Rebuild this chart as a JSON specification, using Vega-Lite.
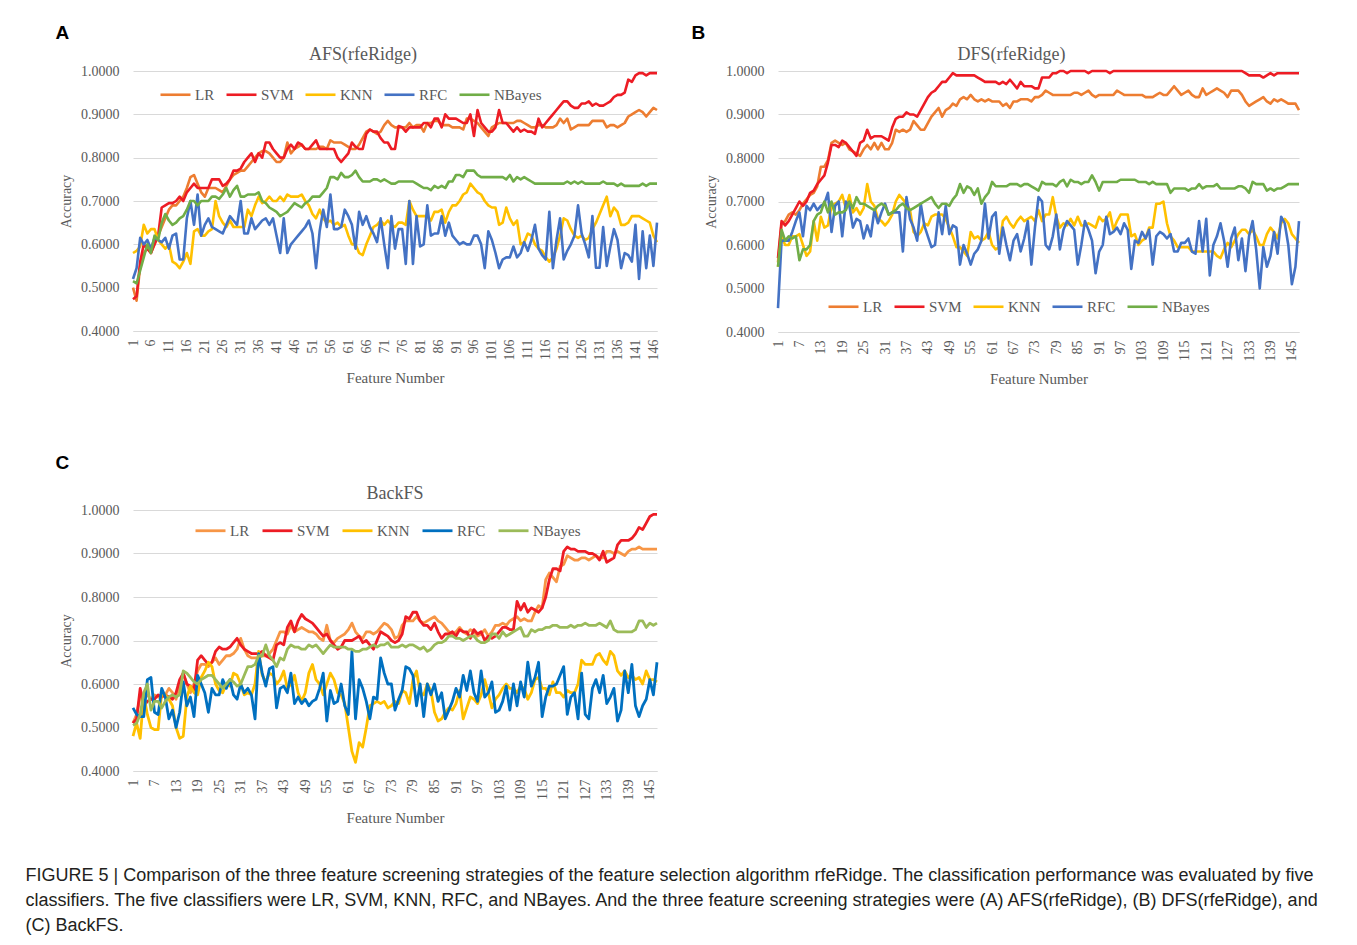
{
"$schema": "https://vega.github.io/schema/vega-lite/v6.json",
"background": "white",
"padding": {"left": 25, "top": 24, "right": 5, "bottom": 5},
"title": {"text": ["FIGURE 5 | Comparison of the three feature screening strategies of the feature selection algorithm rfeRidge. The classification performance was evaluated by five", "classifiers. The five classifiers were LR, SVM, KNN, RFC, and NBayes. And the three feature screening strategies were (A) AFS(rfeRidge), (B) DFS(rfeRidge), and", "(C) BackFS."], "orient": "bottom", "anchor": "start", "font": "Liberation Sans", "fontSize": 18, "fontWeight": "normal", "color": "#231F20", "lineHeight": 25, "offset": 42, "dx": -30},
"resolve": {"scale": {"color": "independent", "strokeWidth": "independent"}, "legend": {"color": "independent"}},
"config": {
  "view": {"stroke": null},
  "title": {"font": "Liberation Serif", "fontSize": 18, "fontWeight": "normal", "color": "#595959"},
  "axis": {"labelFont": "Liberation Serif", "labelFontSize": 14, "labelColor": "#595959", "titleFont": "Liberation Serif", "titleFontSize": 14, "titleColor": "#595959", "titleFontWeight": "normal", "gridColor": "#D9D9D9", "domainColor": "#D9D9D9", "ticks": false, "tickSize": 0},
  "legend": {"orient": "none", "direction": "horizontal", "symbolType": "stroke", "symbolSize": 900, "symbolStrokeWidth": 2.6, "labelFont": "Liberation Serif", "labelFontSize": 15, "labelColor": "#595959", "columnPadding": 6, "labelOffset": 3, "padding": 0, "title": null}
},
"datasets": {
"a": [
{"f":1,"LR":0.50,"SVM":0.473,"KNN":0.58,"RFC":0.52,"NBayes":0.515},
{"f":2,"LR":0.47,"SVM":0.48,"KNN":0.585,"RFC":0.545,"NBayes":0.51},
{"f":3,"LR":0.55,"SVM":0.56,"KNN":0.595,"RFC":0.615,"NBayes":0.54},
{"f":4,"LR":0.58,"SVM":0.60,"KNN":0.645,"RFC":0.60,"NBayes":0.57},
{"f":5,"LR":0.59,"SVM":0.59,"KNN":0.625,"RFC":0.61,"NBayes":0.60},
{"f":6,"LR":0.58,"SVM":0.58,"KNN":0.635,"RFC":0.59,"NBayes":0.58},
{"f":7,"LR":0.60,"SVM":0.60,"KNN":0.635,"RFC":0.615,"NBayes":0.62},
{"f":8,"LR":0.62,"SVM":0.62,"KNN":0.61,"RFC":0.61,"NBayes":0.61},
{"f":9,"LR":0.64,"SVM":0.685,"KNN":0.60,"RFC":0.605,"NBayes":0.65},
{"f":10,"LR":0.66,"SVM":0.69,"KNN":0.59,"RFC":0.615,"NBayes":0.67},
{"f":11,"LR":0.68,"SVM":0.695,"KNN":0.60,"RFC":0.59,"NBayes":0.655},
{"f":12,"LR":0.69,"SVM":0.695,"KNN":0.56,"RFC":0.62,"NBayes":0.645},
{"f":13,"LR":0.69,"SVM":0.70,"KNN":0.555,"RFC":0.625,"NBayes":0.65},
{"f":14,"LR":0.70,"SVM":0.71,"KNN":0.545,"RFC":0.565,"NBayes":0.66},
{"f":15,"LR":0.71,"SVM":0.70,"KNN":0.56,"RFC":0.565,"NBayes":0.665},
{"f":16,"LR":0.73,"SVM":0.72,"KNN":0.58,"RFC":0.66,"NBayes":0.68},
{"f":17,"LR":0.755,"SVM":0.73,"KNN":0.555,"RFC":0.70,"NBayes":0.70},
{"f":18,"LR":0.76,"SVM":0.74,"KNN":0.63,"RFC":0.645,"NBayes":0.70},
{"f":19,"LR":0.74,"SVM":0.73,"KNN":0.635,"RFC":0.715,"NBayes":0.69},
{"f":20,"LR":0.72,"SVM":0.73,"KNN":0.62,"RFC":0.62,"NBayes":0.70},
{"f":21,"LR":0.71,"SVM":0.73,"KNN":0.62,"RFC":0.645,"NBayes":0.70},
{"f":22,"LR":0.73,"SVM":0.73,"KNN":0.63,"RFC":0.66,"NBayes":0.70},
{"f":23,"LR":0.73,"SVM":0.75,"KNN":0.635,"RFC":0.64,"NBayes":0.71},
{"f":24,"LR":0.73,"SVM":0.75,"KNN":0.70,"RFC":0.635,"NBayes":0.71},
{"f":25,"LR":0.725,"SVM":0.75,"KNN":0.665,"RFC":0.63,"NBayes":0.705},
{"f":26,"LR":0.72,"SVM":0.735,"KNN":0.65,"RFC":0.625,"NBayes":0.715},
{"f":27,"LR":0.735,"SVM":0.74,"KNN":0.64,"RFC":0.645,"NBayes":0.73},
{"f":28,"LR":0.75,"SVM":0.75,"KNN":0.655,"RFC":0.665,"NBayes":0.71},
{"f":29,"LR":0.76,"SVM":0.77,"KNN":0.64,"RFC":0.655,"NBayes":0.725},
{"f":30,"LR":0.765,"SVM":0.77,"KNN":0.64,"RFC":0.645,"NBayes":0.735},
{"f":31,"LR":0.77,"SVM":0.775,"KNN":0.64,"RFC":0.70,"NBayes":0.71},
{"f":32,"LR":0.77,"SVM":0.79,"KNN":0.64,"RFC":0.625,"NBayes":0.71},
{"f":33,"LR":0.78,"SVM":0.80,"KNN":0.68,"RFC":0.625,"NBayes":0.715},
{"f":34,"LR":0.79,"SVM":0.81,"KNN":0.665,"RFC":0.66,"NBayes":0.715},
{"f":35,"LR":0.80,"SVM":0.79,"KNN":0.69,"RFC":0.635,"NBayes":0.715},
{"f":36,"LR":0.81,"SVM":0.81,"KNN":0.71,"RFC":0.645,"NBayes":0.72},
{"f":37,"LR":0.815,"SVM":0.80,"KNN":0.695,"RFC":0.655,"NBayes":0.70},
{"f":38,"LR":0.815,"SVM":0.835,"KNN":0.70,"RFC":0.66,"NBayes":0.695},
{"f":39,"LR":0.81,"SVM":0.835,"KNN":0.71,"RFC":0.645,"NBayes":0.685},
{"f":40,"LR":0.80,"SVM":0.82,"KNN":0.70,"RFC":0.66,"NBayes":0.68},
{"f":41,"LR":0.79,"SVM":0.81,"KNN":0.70,"RFC":0.62,"NBayes":0.675},
{"f":42,"LR":0.79,"SVM":0.80,"KNN":0.71,"RFC":0.58,"NBayes":0.665},
{"f":43,"LR":0.80,"SVM":0.80,"KNN":0.70,"RFC":0.66,"NBayes":0.67},
{"f":44,"LR":0.835,"SVM":0.82,"KNN":0.715,"RFC":0.58,"NBayes":0.675},
{"f":45,"LR":0.81,"SVM":0.83,"KNN":0.71,"RFC":0.60,"NBayes":0.685},
{"f":46,"LR":0.82,"SVM":0.82,"KNN":0.71,"RFC":0.61,"NBayes":0.695},
{"f":47,"LR":0.825,"SVM":0.835,"KNN":0.71,"RFC":0.62,"NBayes":0.69},
{"f":48,"LR":0.83,"SVM":0.83,"KNN":0.715,"RFC":0.63,"NBayes":0.685},
{"f":49,"LR":0.82,"SVM":0.82,"KNN":0.70,"RFC":0.64,"NBayes":0.695},
{"f":50,"LR":0.82,"SVM":0.82,"KNN":0.69,"RFC":0.655,"NBayes":0.70},
{"f":51,"LR":0.82,"SVM":0.83,"KNN":0.67,"RFC":0.625,"NBayes":0.71},
{"f":52,"LR":0.82,"SVM":0.84,"KNN":0.66,"RFC":0.545,"NBayes":0.71},
{"f":53,"LR":0.825,"SVM":0.82,"KNN":0.68,"RFC":0.63,"NBayes":0.71},
{"f":54,"LR":0.825,"SVM":0.82,"KNN":0.66,"RFC":0.68,"NBayes":0.72},
{"f":55,"LR":0.82,"SVM":0.82,"KNN":0.65,"RFC":0.64,"NBayes":0.73},
{"f":56,"LR":0.84,"SVM":0.82,"KNN":0.655,"RFC":0.715,"NBayes":0.755},
{"f":57,"LR":0.835,"SVM":0.82,"KNN":0.645,"RFC":0.635,"NBayes":0.755},
{"f":58,"LR":0.835,"SVM":0.80,"KNN":0.65,"RFC":0.635,"NBayes":0.75},
{"f":59,"LR":0.835,"SVM":0.79,"KNN":0.64,"RFC":0.64,"NBayes":0.765},
{"f":60,"LR":0.83,"SVM":0.80,"KNN":0.645,"RFC":0.68,"NBayes":0.755},
{"f":61,"LR":0.825,"SVM":0.81,"KNN":0.62,"RFC":0.665,"NBayes":0.755},
{"f":62,"LR":0.82,"SVM":0.835,"KNN":0.60,"RFC":0.645,"NBayes":0.76},
{"f":63,"LR":0.82,"SVM":0.825,"KNN":0.60,"RFC":0.59,"NBayes":0.77},
{"f":64,"LR":0.83,"SVM":0.82,"KNN":0.58,"RFC":0.675,"NBayes":0.755},
{"f":65,"LR":0.845,"SVM":0.82,"KNN":0.575,"RFC":0.645,"NBayes":0.745},
{"f":66,"LR":0.86,"SVM":0.855,"KNN":0.60,"RFC":0.665,"NBayes":0.745},
{"f":67,"LR":0.865,"SVM":0.865,"KNN":0.62,"RFC":0.64,"NBayes":0.745},
{"f":68,"LR":0.86,"SVM":0.86,"KNN":0.64,"RFC":0.625,"NBayes":0.75},
{"f":69,"LR":0.855,"SVM":0.86,"KNN":0.645,"RFC":0.605,"NBayes":0.75},
{"f":70,"LR":0.86,"SVM":0.845,"KNN":0.655,"RFC":0.66,"NBayes":0.745},
{"f":71,"LR":0.875,"SVM":0.835,"KNN":0.645,"RFC":0.60,"NBayes":0.75},
{"f":72,"LR":0.885,"SVM":0.835,"KNN":0.655,"RFC":0.545,"NBayes":0.745},
{"f":73,"LR":0.875,"SVM":0.82,"KNN":0.645,"RFC":0.665,"NBayes":0.74},
{"f":74,"LR":0.87,"SVM":0.82,"KNN":0.64,"RFC":0.59,"NBayes":0.74},
{"f":75,"LR":0.87,"SVM":0.873,"KNN":0.65,"RFC":0.635,"NBayes":0.745},
{"f":76,"LR":0.87,"SVM":0.87,"KNN":0.65,"RFC":0.635,"NBayes":0.745},
{"f":77,"LR":0.87,"SVM":0.86,"KNN":0.645,"RFC":0.555,"NBayes":0.745},
{"f":78,"LR":0.88,"SVM":0.87,"KNN":0.70,"RFC":0.70,"NBayes":0.745},
{"f":79,"LR":0.87,"SVM":0.87,"KNN":0.68,"RFC":0.555,"NBayes":0.745},
{"f":80,"LR":0.875,"SVM":0.87,"KNN":0.665,"RFC":0.665,"NBayes":0.74},
{"f":81,"LR":0.875,"SVM":0.87,"KNN":0.665,"RFC":0.595,"NBayes":0.735},
{"f":82,"LR":0.86,"SVM":0.88,"KNN":0.665,"RFC":0.60,"NBayes":0.73},
{"f":83,"LR":0.88,"SVM":0.88,"KNN":0.665,"RFC":0.69,"NBayes":0.73},
{"f":84,"LR":0.88,"SVM":0.87,"KNN":0.655,"RFC":0.62,"NBayes":0.725},
{"f":85,"LR":0.885,"SVM":0.89,"KNN":0.675,"RFC":0.625,"NBayes":0.735},
{"f":86,"LR":0.885,"SVM":0.89,"KNN":0.675,"RFC":0.625,"NBayes":0.73},
{"f":87,"LR":0.875,"SVM":0.87,"KNN":0.68,"RFC":0.665,"NBayes":0.735},
{"f":88,"LR":0.875,"SVM":0.90,"KNN":0.65,"RFC":0.62,"NBayes":0.73},
{"f":89,"LR":0.875,"SVM":0.89,"KNN":0.675,"RFC":0.65,"NBayes":0.745},
{"f":90,"LR":0.87,"SVM":0.89,"KNN":0.69,"RFC":0.62,"NBayes":0.745},
{"f":91,"LR":0.87,"SVM":0.89,"KNN":0.69,"RFC":0.61,"NBayes":0.76},
{"f":92,"LR":0.87,"SVM":0.885,"KNN":0.70,"RFC":0.60,"NBayes":0.76},
{"f":93,"LR":0.865,"SVM":0.88,"KNN":0.715,"RFC":0.605,"NBayes":0.755},
{"f":94,"LR":0.89,"SVM":0.88,"KNN":0.72,"RFC":0.60,"NBayes":0.77},
{"f":95,"LR":0.89,"SVM":0.90,"KNN":0.74,"RFC":0.60,"NBayes":0.77},
{"f":96,"LR":0.885,"SVM":0.85,"KNN":0.73,"RFC":0.62,"NBayes":0.77},
{"f":97,"LR":0.88,"SVM":0.91,"KNN":0.72,"RFC":0.62,"NBayes":0.76},
{"f":98,"LR":0.87,"SVM":0.88,"KNN":0.715,"RFC":0.60,"NBayes":0.755},
{"f":99,"LR":0.86,"SVM":0.87,"KNN":0.70,"RFC":0.545,"NBayes":0.755},
{"f":100,"LR":0.85,"SVM":0.86,"KNN":0.69,"RFC":0.63,"NBayes":0.755},
{"f":101,"LR":0.87,"SVM":0.86,"KNN":0.685,"RFC":0.61,"NBayes":0.755},
{"f":102,"LR":0.875,"SVM":0.87,"KNN":0.685,"RFC":0.58,"NBayes":0.755},
{"f":103,"LR":0.88,"SVM":0.91,"KNN":0.645,"RFC":0.545,"NBayes":0.755},
{"f":104,"LR":0.88,"SVM":0.88,"KNN":0.65,"RFC":0.565,"NBayes":0.755},
{"f":105,"LR":0.88,"SVM":0.88,"KNN":0.685,"RFC":0.57,"NBayes":0.75},
{"f":106,"LR":0.88,"SVM":0.87,"KNN":0.66,"RFC":0.57,"NBayes":0.76},
{"f":107,"LR":0.88,"SVM":0.86,"KNN":0.645,"RFC":0.595,"NBayes":0.745},
{"f":108,"LR":0.885,"SVM":0.87,"KNN":0.655,"RFC":0.57,"NBayes":0.755},
{"f":109,"LR":0.885,"SVM":0.86,"KNN":0.60,"RFC":0.58,"NBayes":0.75},
{"f":110,"LR":0.88,"SVM":0.865,"KNN":0.605,"RFC":0.605,"NBayes":0.755},
{"f":111,"LR":0.875,"SVM":0.86,"KNN":0.625,"RFC":0.585,"NBayes":0.75},
{"f":112,"LR":0.87,"SVM":0.86,"KNN":0.62,"RFC":0.61,"NBayes":0.745},
{"f":113,"LR":0.87,"SVM":0.855,"KNN":0.60,"RFC":0.645,"NBayes":0.74},
{"f":114,"LR":0.875,"SVM":0.89,"KNN":0.59,"RFC":0.59,"NBayes":0.74},
{"f":115,"LR":0.875,"SVM":0.87,"KNN":0.585,"RFC":0.575,"NBayes":0.74},
{"f":116,"LR":0.87,"SVM":0.88,"KNN":0.57,"RFC":0.565,"NBayes":0.74},
{"f":117,"LR":0.87,"SVM":0.89,"KNN":0.56,"RFC":0.675,"NBayes":0.74},
{"f":118,"LR":0.87,"SVM":0.90,"KNN":0.57,"RFC":0.545,"NBayes":0.74},
{"f":119,"LR":0.875,"SVM":0.91,"KNN":0.59,"RFC":0.61,"NBayes":0.74},
{"f":120,"LR":0.89,"SVM":0.92,"KNN":0.62,"RFC":0.66,"NBayes":0.74},
{"f":121,"LR":0.88,"SVM":0.93,"KNN":0.66,"RFC":0.565,"NBayes":0.74},
{"f":122,"LR":0.89,"SVM":0.93,"KNN":0.655,"RFC":0.585,"NBayes":0.745},
{"f":123,"LR":0.865,"SVM":0.92,"KNN":0.635,"RFC":0.60,"NBayes":0.74},
{"f":124,"LR":0.87,"SVM":0.915,"KNN":0.62,"RFC":0.62,"NBayes":0.745},
{"f":125,"LR":0.875,"SVM":0.915,"KNN":0.615,"RFC":0.69,"NBayes":0.74},
{"f":126,"LR":0.875,"SVM":0.925,"KNN":0.62,"RFC":0.625,"NBayes":0.745},
{"f":127,"LR":0.875,"SVM":0.925,"KNN":0.61,"RFC":0.60,"NBayes":0.74},
{"f":128,"LR":0.875,"SVM":0.93,"KNN":0.615,"RFC":0.57,"NBayes":0.74},
{"f":129,"LR":0.885,"SVM":0.92,"KNN":0.635,"RFC":0.665,"NBayes":0.74},
{"f":130,"LR":0.885,"SVM":0.925,"KNN":0.65,"RFC":0.546,"NBayes":0.74},
{"f":131,"LR":0.885,"SVM":0.92,"KNN":0.67,"RFC":0.546,"NBayes":0.74},
{"f":132,"LR":0.885,"SVM":0.92,"KNN":0.69,"RFC":0.64,"NBayes":0.745},
{"f":133,"LR":0.87,"SVM":0.925,"KNN":0.71,"RFC":0.55,"NBayes":0.74},
{"f":134,"LR":0.875,"SVM":0.93,"KNN":0.665,"RFC":0.595,"NBayes":0.74},
{"f":135,"LR":0.875,"SVM":0.94,"KNN":0.685,"RFC":0.635,"NBayes":0.74},
{"f":136,"LR":0.87,"SVM":0.945,"KNN":0.675,"RFC":0.61,"NBayes":0.735},
{"f":137,"LR":0.875,"SVM":0.945,"KNN":0.645,"RFC":0.545,"NBayes":0.74},
{"f":138,"LR":0.88,"SVM":0.95,"KNN":0.645,"RFC":0.58,"NBayes":0.735},
{"f":139,"LR":0.895,"SVM":0.98,"KNN":0.65,"RFC":0.575,"NBayes":0.735},
{"f":140,"LR":0.90,"SVM":0.975,"KNN":0.665,"RFC":0.56,"NBayes":0.735},
{"f":141,"LR":0.905,"SVM":0.99,"KNN":0.665,"RFC":0.645,"NBayes":0.735},
{"f":142,"LR":0.91,"SVM":0.995,"KNN":0.665,"RFC":0.52,"NBayes":0.735},
{"f":143,"LR":0.905,"SVM":0.995,"KNN":0.66,"RFC":0.63,"NBayes":0.74},
{"f":144,"LR":0.895,"SVM":0.99,"KNN":0.655,"RFC":0.545,"NBayes":0.735},
{"f":145,"LR":0.905,"SVM":0.995,"KNN":0.65,"RFC":0.62,"NBayes":0.74},
{"f":146,"LR":0.915,"SVM":0.995,"KNN":0.62,"RFC":0.55,"NBayes":0.74},
{"f":147,"LR":0.91,"SVM":0.995,"KNN":0.605,"RFC":0.65,"NBayes":0.74}
],
"b": [
{"f":1,"LR":0.56,"SVM":0.57,"KNN":0.55,"RFC":0.455,"NBayes":0.55},
{"f":2,"LR":0.65,"SVM":0.655,"KNN":0.62,"RFC":0.61,"NBayes":0.635},
{"f":3,"LR":0.655,"SVM":0.645,"KNN":0.60,"RFC":0.61,"NBayes":0.61},
{"f":4,"LR":0.67,"SVM":0.655,"KNN":0.60,"RFC":0.61,"NBayes":0.62},
{"f":5,"LR":0.675,"SVM":0.67,"KNN":0.62,"RFC":0.63,"NBayes":0.615},
{"f":6,"LR":0.67,"SVM":0.685,"KNN":0.62,"RFC":0.655,"NBayes":0.62},
{"f":7,"LR":0.68,"SVM":0.70,"KNN":0.625,"RFC":0.675,"NBayes":0.565},
{"f":8,"LR":0.695,"SVM":0.69,"KNN":0.60,"RFC":0.62,"NBayes":0.59},
{"f":9,"LR":0.705,"SVM":0.70,"KNN":0.575,"RFC":0.69,"NBayes":0.59},
{"f":10,"LR":0.715,"SVM":0.72,"KNN":0.585,"RFC":0.68,"NBayes":0.60},
{"f":11,"LR":0.72,"SVM":0.725,"KNN":0.655,"RFC":0.695,"NBayes":0.655},
{"f":12,"LR":0.735,"SVM":0.74,"KNN":0.61,"RFC":0.68,"NBayes":0.67},
{"f":13,"LR":0.78,"SVM":0.75,"KNN":0.665,"RFC":0.69,"NBayes":0.675},
{"f":14,"LR":0.78,"SVM":0.76,"KNN":0.64,"RFC":0.695,"NBayes":0.70},
{"f":15,"LR":0.795,"SVM":0.79,"KNN":0.645,"RFC":0.72,"NBayes":0.675},
{"f":16,"LR":0.835,"SVM":0.83,"KNN":0.69,"RFC":0.63,"NBayes":0.70},
{"f":17,"LR":0.84,"SVM":0.83,"KNN":0.695,"RFC":0.69,"NBayes":0.67},
{"f":18,"LR":0.835,"SVM":0.825,"KNN":0.70,"RFC":0.70,"NBayes":0.675},
{"f":19,"LR":0.83,"SVM":0.84,"KNN":0.715,"RFC":0.62,"NBayes":0.675},
{"f":20,"LR":0.835,"SVM":0.835,"KNN":0.685,"RFC":0.70,"NBayes":0.68},
{"f":21,"LR":0.82,"SVM":0.825,"KNN":0.715,"RFC":0.69,"NBayes":0.70},
{"f":22,"LR":0.815,"SVM":0.815,"KNN":0.675,"RFC":0.64,"NBayes":0.685},
{"f":23,"LR":0.81,"SVM":0.805,"KNN":0.685,"RFC":0.66,"NBayes":0.71},
{"f":24,"LR":0.805,"SVM":0.835,"KNN":0.67,"RFC":0.655,"NBayes":0.695},
{"f":25,"LR":0.82,"SVM":0.84,"KNN":0.685,"RFC":0.615,"NBayes":0.695},
{"f":26,"LR":0.83,"SVM":0.865,"KNN":0.74,"RFC":0.645,"NBayes":0.69},
{"f":27,"LR":0.82,"SVM":0.845,"KNN":0.70,"RFC":0.62,"NBayes":0.685},
{"f":28,"LR":0.835,"SVM":0.85,"KNN":0.69,"RFC":0.68,"NBayes":0.68},
{"f":29,"LR":0.82,"SVM":0.85,"KNN":0.66,"RFC":0.65,"NBayes":0.69},
{"f":30,"LR":0.835,"SVM":0.85,"KNN":0.655,"RFC":0.675,"NBayes":0.695},
{"f":31,"LR":0.82,"SVM":0.845,"KNN":0.645,"RFC":0.695,"NBayes":0.69},
{"f":32,"LR":0.82,"SVM":0.84,"KNN":0.655,"RFC":0.67,"NBayes":0.67},
{"f":33,"LR":0.835,"SVM":0.87,"KNN":0.67,"RFC":0.675,"NBayes":0.675},
{"f":34,"LR":0.865,"SVM":0.89,"KNN":0.70,"RFC":0.675,"NBayes":0.68},
{"f":35,"LR":0.86,"SVM":0.895,"KNN":0.715,"RFC":0.675,"NBayes":0.69},
{"f":36,"LR":0.865,"SVM":0.895,"KNN":0.705,"RFC":0.585,"NBayes":0.695},
{"f":37,"LR":0.86,"SVM":0.905,"KNN":0.695,"RFC":0.71,"NBayes":0.685},
{"f":38,"LR":0.865,"SVM":0.90,"KNN":0.68,"RFC":0.66,"NBayes":0.68},
{"f":39,"LR":0.885,"SVM":0.90,"KNN":0.63,"RFC":0.64,"NBayes":0.685},
{"f":40,"LR":0.875,"SVM":0.895,"KNN":0.62,"RFC":0.61,"NBayes":0.69},
{"f":41,"LR":0.865,"SVM":0.91,"KNN":0.63,"RFC":0.695,"NBayes":0.695},
{"f":42,"LR":0.865,"SVM":0.925,"KNN":0.65,"RFC":0.645,"NBayes":0.70},
{"f":43,"LR":0.88,"SVM":0.94,"KNN":0.645,"RFC":0.62,"NBayes":0.705},
{"f":44,"LR":0.895,"SVM":0.95,"KNN":0.665,"RFC":0.595,"NBayes":0.71},
{"f":45,"LR":0.905,"SVM":0.955,"KNN":0.67,"RFC":0.60,"NBayes":0.695},
{"f":46,"LR":0.915,"SVM":0.965,"KNN":0.67,"RFC":0.675,"NBayes":0.685},
{"f":47,"LR":0.895,"SVM":0.975,"KNN":0.67,"RFC":0.625,"NBayes":0.695},
{"f":48,"LR":0.91,"SVM":0.975,"KNN":0.66,"RFC":0.69,"NBayes":0.695},
{"f":49,"LR":0.915,"SVM":0.985,"KNN":0.64,"RFC":0.625,"NBayes":0.69},
{"f":50,"LR":0.925,"SVM":0.995,"KNN":0.62,"RFC":0.645,"NBayes":0.705},
{"f":51,"LR":0.92,"SVM":0.99,"KNN":0.595,"RFC":0.64,"NBayes":0.715},
{"f":52,"LR":0.935,"SVM":0.99,"KNN":0.595,"RFC":0.555,"NBayes":0.74},
{"f":53,"LR":0.94,"SVM":0.99,"KNN":0.585,"RFC":0.60,"NBayes":0.72},
{"f":54,"LR":0.935,"SVM":0.99,"KNN":0.575,"RFC":0.58,"NBayes":0.735},
{"f":55,"LR":0.945,"SVM":0.99,"KNN":0.63,"RFC":0.555,"NBayes":0.73},
{"f":56,"LR":0.935,"SVM":0.99,"KNN":0.615,"RFC":0.58,"NBayes":0.715},
{"f":57,"LR":0.93,"SVM":0.985,"KNN":0.62,"RFC":0.59,"NBayes":0.73},
{"f":58,"LR":0.935,"SVM":0.98,"KNN":0.61,"RFC":0.61,"NBayes":0.695},
{"f":59,"LR":0.93,"SVM":0.975,"KNN":0.615,"RFC":0.695,"NBayes":0.71},
{"f":60,"LR":0.935,"SVM":0.975,"KNN":0.63,"RFC":0.615,"NBayes":0.72},
{"f":61,"LR":0.93,"SVM":0.975,"KNN":0.60,"RFC":0.665,"NBayes":0.745},
{"f":62,"LR":0.93,"SVM":0.975,"KNN":0.59,"RFC":0.675,"NBayes":0.735},
{"f":63,"LR":0.93,"SVM":0.97,"KNN":0.595,"RFC":0.58,"NBayes":0.735},
{"f":64,"LR":0.92,"SVM":0.975,"KNN":0.655,"RFC":0.64,"NBayes":0.735},
{"f":65,"LR":0.925,"SVM":0.97,"KNN":0.665,"RFC":0.60,"NBayes":0.735},
{"f":66,"LR":0.915,"SVM":0.98,"KNN":0.65,"RFC":0.565,"NBayes":0.74},
{"f":67,"LR":0.93,"SVM":0.97,"KNN":0.64,"RFC":0.61,"NBayes":0.74},
{"f":68,"LR":0.93,"SVM":0.96,"KNN":0.655,"RFC":0.625,"NBayes":0.74},
{"f":69,"LR":0.935,"SVM":0.975,"KNN":0.665,"RFC":0.585,"NBayes":0.735},
{"f":70,"LR":0.935,"SVM":0.965,"KNN":0.655,"RFC":0.615,"NBayes":0.74},
{"f":71,"LR":0.935,"SVM":0.965,"KNN":0.66,"RFC":0.655,"NBayes":0.74},
{"f":72,"LR":0.93,"SVM":0.965,"KNN":0.665,"RFC":0.555,"NBayes":0.735},
{"f":73,"LR":0.94,"SVM":0.96,"KNN":0.655,"RFC":0.64,"NBayes":0.73},
{"f":74,"LR":0.94,"SVM":0.96,"KNN":0.68,"RFC":0.71,"NBayes":0.725},
{"f":75,"LR":0.945,"SVM":0.985,"KNN":0.655,"RFC":0.70,"NBayes":0.745},
{"f":76,"LR":0.955,"SVM":0.985,"KNN":0.67,"RFC":0.60,"NBayes":0.74},
{"f":77,"LR":0.95,"SVM":0.985,"KNN":0.67,"RFC":0.59,"NBayes":0.74},
{"f":78,"LR":0.945,"SVM":0.995,"KNN":0.71,"RFC":0.62,"NBayes":0.74},
{"f":79,"LR":0.945,"SVM":0.995,"KNN":0.665,"RFC":0.67,"NBayes":0.735},
{"f":80,"LR":0.945,"SVM":1.0,"KNN":0.64,"RFC":0.59,"NBayes":0.745},
{"f":81,"LR":0.945,"SVM":1.0,"KNN":0.65,"RFC":0.635,"NBayes":0.75},
{"f":82,"LR":0.945,"SVM":0.995,"KNN":0.645,"RFC":0.655,"NBayes":0.735},
{"f":83,"LR":0.945,"SVM":1.0,"KNN":0.66,"RFC":0.645,"NBayes":0.75},
{"f":84,"LR":0.95,"SVM":1.0,"KNN":0.645,"RFC":0.635,"NBayes":0.745},
{"f":85,"LR":0.95,"SVM":1.0,"KNN":0.665,"RFC":0.555,"NBayes":0.745},
{"f":86,"LR":0.945,"SVM":1.0,"KNN":0.645,"RFC":0.60,"NBayes":0.74},
{"f":87,"LR":0.95,"SVM":1.0,"KNN":0.645,"RFC":0.655,"NBayes":0.745},
{"f":88,"LR":0.955,"SVM":0.995,"KNN":0.65,"RFC":0.635,"NBayes":0.745},
{"f":89,"LR":0.945,"SVM":1.0,"KNN":0.645,"RFC":0.61,"NBayes":0.76},
{"f":90,"LR":0.94,"SVM":1.0,"KNN":0.64,"RFC":0.535,"NBayes":0.745},
{"f":91,"LR":0.945,"SVM":1.0,"KNN":0.665,"RFC":0.585,"NBayes":0.725},
{"f":92,"LR":0.945,"SVM":1.0,"KNN":0.655,"RFC":0.60,"NBayes":0.745},
{"f":93,"LR":0.945,"SVM":1.0,"KNN":0.66,"RFC":0.665,"NBayes":0.745},
{"f":94,"LR":0.945,"SVM":0.995,"KNN":0.675,"RFC":0.625,"NBayes":0.745},
{"f":95,"LR":0.945,"SVM":1.0,"KNN":0.635,"RFC":0.63,"NBayes":0.745},
{"f":96,"LR":0.955,"SVM":1.0,"KNN":0.655,"RFC":0.64,"NBayes":0.745},
{"f":97,"LR":0.95,"SVM":1.0,"KNN":0.67,"RFC":0.625,"NBayes":0.75},
{"f":98,"LR":0.945,"SVM":1.0,"KNN":0.67,"RFC":0.65,"NBayes":0.75},
{"f":99,"LR":0.945,"SVM":1.0,"KNN":0.67,"RFC":0.635,"NBayes":0.75},
{"f":100,"LR":0.945,"SVM":1.0,"KNN":0.62,"RFC":0.545,"NBayes":0.75},
{"f":101,"LR":0.945,"SVM":1.0,"KNN":0.625,"RFC":0.61,"NBayes":0.75},
{"f":102,"LR":0.945,"SVM":1.0,"KNN":0.60,"RFC":0.605,"NBayes":0.745},
{"f":103,"LR":0.945,"SVM":1.0,"KNN":0.61,"RFC":0.63,"NBayes":0.745},
{"f":104,"LR":0.94,"SVM":1.0,"KNN":0.615,"RFC":0.615,"NBayes":0.745},
{"f":105,"LR":0.94,"SVM":1.0,"KNN":0.64,"RFC":0.635,"NBayes":0.74},
{"f":106,"LR":0.94,"SVM":1.0,"KNN":0.64,"RFC":0.555,"NBayes":0.745},
{"f":107,"LR":0.945,"SVM":1.0,"KNN":0.695,"RFC":0.62,"NBayes":0.74},
{"f":108,"LR":0.95,"SVM":1.0,"KNN":0.695,"RFC":0.63,"NBayes":0.74},
{"f":109,"LR":0.945,"SVM":1.0,"KNN":0.70,"RFC":0.625,"NBayes":0.74},
{"f":110,"LR":0.945,"SVM":1.0,"KNN":0.65,"RFC":0.615,"NBayes":0.74},
{"f":111,"LR":0.955,"SVM":1.0,"KNN":0.62,"RFC":0.625,"NBayes":0.72},
{"f":112,"LR":0.965,"SVM":1.0,"KNN":0.61,"RFC":0.585,"NBayes":0.73},
{"f":113,"LR":0.955,"SVM":1.0,"KNN":0.595,"RFC":0.585,"NBayes":0.73},
{"f":114,"LR":0.945,"SVM":1.0,"KNN":0.595,"RFC":0.605,"NBayes":0.73},
{"f":115,"LR":0.95,"SVM":1.0,"KNN":0.595,"RFC":0.605,"NBayes":0.73},
{"f":116,"LR":0.955,"SVM":1.0,"KNN":0.595,"RFC":0.615,"NBayes":0.725},
{"f":117,"LR":0.945,"SVM":1.0,"KNN":0.585,"RFC":0.585,"NBayes":0.73},
{"f":118,"LR":0.94,"SVM":1.0,"KNN":0.585,"RFC":0.58,"NBayes":0.73},
{"f":119,"LR":0.94,"SVM":1.0,"KNN":0.585,"RFC":0.655,"NBayes":0.74},
{"f":120,"LR":0.96,"SVM":1.0,"KNN":0.585,"RFC":0.585,"NBayes":0.73},
{"f":121,"LR":0.945,"SVM":1.0,"KNN":0.585,"RFC":0.66,"NBayes":0.735},
{"f":122,"LR":0.95,"SVM":1.0,"KNN":0.585,"RFC":0.53,"NBayes":0.735},
{"f":123,"LR":0.955,"SVM":1.0,"KNN":0.585,"RFC":0.60,"NBayes":0.735},
{"f":124,"LR":0.96,"SVM":1.0,"KNN":0.575,"RFC":0.62,"NBayes":0.74},
{"f":125,"LR":0.955,"SVM":1.0,"KNN":0.57,"RFC":0.65,"NBayes":0.73},
{"f":126,"LR":0.95,"SVM":1.0,"KNN":0.59,"RFC":0.61,"NBayes":0.73},
{"f":127,"LR":0.94,"SVM":1.0,"KNN":0.605,"RFC":0.55,"NBayes":0.73},
{"f":128,"LR":0.955,"SVM":1.0,"KNN":0.595,"RFC":0.615,"NBayes":0.73},
{"f":129,"LR":0.955,"SVM":1.0,"KNN":0.61,"RFC":0.64,"NBayes":0.73},
{"f":130,"LR":0.955,"SVM":1.0,"KNN":0.625,"RFC":0.565,"NBayes":0.735},
{"f":131,"LR":0.945,"SVM":1.0,"KNN":0.635,"RFC":0.615,"NBayes":0.735},
{"f":132,"LR":0.93,"SVM":0.995,"KNN":0.635,"RFC":0.54,"NBayes":0.73},
{"f":133,"LR":0.92,"SVM":0.99,"KNN":0.625,"RFC":0.62,"NBayes":0.72},
{"f":134,"LR":0.925,"SVM":0.99,"KNN":0.635,"RFC":0.655,"NBayes":0.745},
{"f":135,"LR":0.93,"SVM":0.99,"KNN":0.62,"RFC":0.59,"NBayes":0.74},
{"f":136,"LR":0.935,"SVM":0.99,"KNN":0.60,"RFC":0.50,"NBayes":0.74},
{"f":137,"LR":0.94,"SVM":0.985,"KNN":0.60,"RFC":0.595,"NBayes":0.74},
{"f":138,"LR":0.93,"SVM":0.99,"KNN":0.625,"RFC":0.55,"NBayes":0.725},
{"f":139,"LR":0.925,"SVM":0.995,"KNN":0.64,"RFC":0.575,"NBayes":0.73},
{"f":140,"LR":0.935,"SVM":0.99,"KNN":0.63,"RFC":0.63,"NBayes":0.725},
{"f":141,"LR":0.93,"SVM":0.995,"KNN":0.615,"RFC":0.58,"NBayes":0.73},
{"f":142,"LR":0.935,"SVM":0.995,"KNN":0.65,"RFC":0.665,"NBayes":0.73},
{"f":143,"LR":0.93,"SVM":0.995,"KNN":0.66,"RFC":0.65,"NBayes":0.735},
{"f":144,"LR":0.925,"SVM":0.995,"KNN":0.65,"RFC":0.60,"NBayes":0.74},
{"f":145,"LR":0.925,"SVM":0.995,"KNN":0.625,"RFC":0.51,"NBayes":0.74},
{"f":146,"LR":0.925,"SVM":0.995,"KNN":0.615,"RFC":0.55,"NBayes":0.74},
{"f":147,"LR":0.91,"SVM":0.995,"KNN":0.605,"RFC":0.655,"NBayes":0.74}
],
"c": [
{"f":1,"LR":0.51,"SVM":0.51,"KNN":0.48,"RFC":0.545,"NBayes":0.505},
{"f":2,"LR":0.53,"SVM":0.52,"KNN":0.51,"RFC":0.53,"NBayes":0.51},
{"f":3,"LR":0.57,"SVM":0.59,"KNN":0.475,"RFC":0.525,"NBayes":0.53},
{"f":4,"LR":0.565,"SVM":0.55,"KNN":0.575,"RFC":0.525,"NBayes":0.58},
{"f":5,"LR":0.575,"SVM":0.56,"KNN":0.53,"RFC":0.61,"NBayes":0.60},
{"f":6,"LR":0.565,"SVM":0.565,"KNN":0.50,"RFC":0.615,"NBayes":0.54},
{"f":7,"LR":0.575,"SVM":0.565,"KNN":0.495,"RFC":0.535,"NBayes":0.56},
{"f":8,"LR":0.57,"SVM":0.575,"KNN":0.495,"RFC":0.53,"NBayes":0.56},
{"f":9,"LR":0.57,"SVM":0.57,"KNN":0.58,"RFC":0.59,"NBayes":0.545},
{"f":10,"LR":0.575,"SVM":0.575,"KNN":0.575,"RFC":0.57,"NBayes":0.56},
{"f":11,"LR":0.59,"SVM":0.57,"KNN":0.565,"RFC":0.52,"NBayes":0.57},
{"f":12,"LR":0.58,"SVM":0.565,"KNN":0.55,"RFC":0.54,"NBayes":0.575},
{"f":13,"LR":0.565,"SVM":0.58,"KNN":0.50,"RFC":0.50,"NBayes":0.57},
{"f":14,"LR":0.60,"SVM":0.61,"KNN":0.475,"RFC":0.535,"NBayes":0.575},
{"f":15,"LR":0.625,"SVM":0.625,"KNN":0.48,"RFC":0.605,"NBayes":0.63},
{"f":16,"LR":0.60,"SVM":0.60,"KNN":0.57,"RFC":0.55,"NBayes":0.625},
{"f":17,"LR":0.58,"SVM":0.595,"KNN":0.595,"RFC":0.57,"NBayes":0.615},
{"f":18,"LR":0.60,"SVM":0.585,"KNN":0.58,"RFC":0.525,"NBayes":0.605},
{"f":19,"LR":0.63,"SVM":0.655,"KNN":0.575,"RFC":0.62,"NBayes":0.60},
{"f":20,"LR":0.645,"SVM":0.665,"KNN":0.615,"RFC":0.60,"NBayes":0.61},
{"f":21,"LR":0.645,"SVM":0.655,"KNN":0.63,"RFC":0.58,"NBayes":0.615},
{"f":22,"LR":0.64,"SVM":0.645,"KNN":0.65,"RFC":0.535,"NBayes":0.62},
{"f":23,"LR":0.65,"SVM":0.65,"KNN":0.64,"RFC":0.59,"NBayes":0.62},
{"f":24,"LR":0.66,"SVM":0.675,"KNN":0.60,"RFC":0.575,"NBayes":0.61},
{"f":25,"LR":0.645,"SVM":0.685,"KNN":0.585,"RFC":0.575,"NBayes":0.60},
{"f":26,"LR":0.655,"SVM":0.68,"KNN":0.58,"RFC":0.61,"NBayes":0.59},
{"f":27,"LR":0.665,"SVM":0.68,"KNN":0.60,"RFC":0.59,"NBayes":0.60},
{"f":28,"LR":0.665,"SVM":0.685,"KNN":0.595,"RFC":0.61,"NBayes":0.61},
{"f":29,"LR":0.67,"SVM":0.695,"KNN":0.625,"RFC":0.575,"NBayes":0.605},
{"f":30,"LR":0.68,"SVM":0.705,"KNN":0.62,"RFC":0.565,"NBayes":0.595},
{"f":31,"LR":0.705,"SVM":0.69,"KNN":0.60,"RFC":0.60,"NBayes":0.60},
{"f":32,"LR":0.68,"SVM":0.68,"KNN":0.575,"RFC":0.58,"NBayes":0.62},
{"f":33,"LR":0.665,"SVM":0.675,"KNN":0.58,"RFC":0.59,"NBayes":0.64},
{"f":34,"LR":0.66,"SVM":0.67,"KNN":0.575,"RFC":0.575,"NBayes":0.64},
{"f":35,"LR":0.66,"SVM":0.67,"KNN":0.60,"RFC":0.52,"NBayes":0.645},
{"f":36,"LR":0.66,"SVM":0.67,"KNN":0.675,"RFC":0.67,"NBayes":0.665},
{"f":37,"LR":0.665,"SVM":0.675,"KNN":0.62,"RFC":0.625,"NBayes":0.665},
{"f":38,"LR":0.665,"SVM":0.665,"KNN":0.605,"RFC":0.595,"NBayes":0.69},
{"f":39,"LR":0.67,"SVM":0.66,"KNN":0.625,"RFC":0.635,"NBayes":0.665},
{"f":40,"LR":0.68,"SVM":0.655,"KNN":0.62,"RFC":0.64,"NBayes":0.655},
{"f":41,"LR":0.70,"SVM":0.69,"KNN":0.60,"RFC":0.545,"NBayes":0.64},
{"f":42,"LR":0.72,"SVM":0.695,"KNN":0.61,"RFC":0.59,"NBayes":0.66},
{"f":43,"LR":0.72,"SVM":0.69,"KNN":0.63,"RFC":0.595,"NBayes":0.655},
{"f":44,"LR":0.715,"SVM":0.73,"KNN":0.59,"RFC":0.58,"NBayes":0.68},
{"f":45,"LR":0.735,"SVM":0.745,"KNN":0.60,"RFC":0.625,"NBayes":0.69},
{"f":46,"LR":0.72,"SVM":0.72,"KNN":0.62,"RFC":0.555,"NBayes":0.685},
{"f":47,"LR":0.725,"SVM":0.745,"KNN":0.58,"RFC":0.57,"NBayes":0.685},
{"f":48,"LR":0.73,"SVM":0.76,"KNN":0.56,"RFC":0.555,"NBayes":0.68},
{"f":49,"LR":0.725,"SVM":0.75,"KNN":0.58,"RFC":0.565,"NBayes":0.68},
{"f":50,"LR":0.72,"SVM":0.745,"KNN":0.625,"RFC":0.55,"NBayes":0.69},
{"f":51,"LR":0.72,"SVM":0.74,"KNN":0.645,"RFC":0.56,"NBayes":0.685},
{"f":52,"LR":0.715,"SVM":0.73,"KNN":0.61,"RFC":0.565,"NBayes":0.69},
{"f":53,"LR":0.705,"SVM":0.72,"KNN":0.60,"RFC":0.59,"NBayes":0.68},
{"f":54,"LR":0.70,"SVM":0.71,"KNN":0.575,"RFC":0.625,"NBayes":0.67},
{"f":55,"LR":0.735,"SVM":0.715,"KNN":0.60,"RFC":0.515,"NBayes":0.68},
{"f":56,"LR":0.70,"SVM":0.70,"KNN":0.625,"RFC":0.585,"NBayes":0.69},
{"f":57,"LR":0.695,"SVM":0.69,"KNN":0.61,"RFC":0.555,"NBayes":0.685},
{"f":58,"LR":0.705,"SVM":0.68,"KNN":0.58,"RFC":0.56,"NBayes":0.685},
{"f":59,"LR":0.71,"SVM":0.685,"KNN":0.575,"RFC":0.60,"NBayes":0.685},
{"f":60,"LR":0.715,"SVM":0.70,"KNN":0.555,"RFC":0.55,"NBayes":0.685},
{"f":61,"LR":0.725,"SVM":0.70,"KNN":0.50,"RFC":0.53,"NBayes":0.68},
{"f":62,"LR":0.74,"SVM":0.70,"KNN":0.445,"RFC":0.675,"NBayes":0.68},
{"f":63,"LR":0.72,"SVM":0.705,"KNN":0.42,"RFC":0.52,"NBayes":0.675},
{"f":64,"LR":0.71,"SVM":0.71,"KNN":0.465,"RFC":0.61,"NBayes":0.675},
{"f":65,"LR":0.705,"SVM":0.695,"KNN":0.455,"RFC":0.59,"NBayes":0.68},
{"f":66,"LR":0.72,"SVM":0.70,"KNN":0.50,"RFC":0.56,"NBayes":0.68},
{"f":67,"LR":0.72,"SVM":0.69,"KNN":0.55,"RFC":0.52,"NBayes":0.685},
{"f":68,"LR":0.715,"SVM":0.68,"KNN":0.555,"RFC":0.57,"NBayes":0.69},
{"f":69,"LR":0.72,"SVM":0.70,"KNN":0.56,"RFC":0.565,"NBayes":0.685},
{"f":70,"LR":0.73,"SVM":0.72,"KNN":0.555,"RFC":0.66,"NBayes":0.69},
{"f":71,"LR":0.74,"SVM":0.715,"KNN":0.56,"RFC":0.625,"NBayes":0.69},
{"f":72,"LR":0.735,"SVM":0.71,"KNN":0.545,"RFC":0.60,"NBayes":0.695},
{"f":73,"LR":0.725,"SVM":0.70,"KNN":0.55,"RFC":0.60,"NBayes":0.685},
{"f":74,"LR":0.705,"SVM":0.695,"KNN":0.56,"RFC":0.54,"NBayes":0.685},
{"f":75,"LR":0.71,"SVM":0.70,"KNN":0.555,"RFC":0.565,"NBayes":0.685},
{"f":76,"LR":0.735,"SVM":0.715,"KNN":0.585,"RFC":0.585,"NBayes":0.69},
{"f":77,"LR":0.745,"SVM":0.755,"KNN":0.58,"RFC":0.64,"NBayes":0.685},
{"f":78,"LR":0.745,"SVM":0.75,"KNN":0.555,"RFC":0.635,"NBayes":0.69},
{"f":79,"LR":0.745,"SVM":0.765,"KNN":0.61,"RFC":0.62,"NBayes":0.69},
{"f":80,"LR":0.755,"SVM":0.765,"KNN":0.63,"RFC":0.55,"NBayes":0.685},
{"f":81,"LR":0.745,"SVM":0.745,"KNN":0.58,"RFC":0.60,"NBayes":0.68},
{"f":82,"LR":0.74,"SVM":0.735,"KNN":0.575,"RFC":0.525,"NBayes":0.685},
{"f":83,"LR":0.745,"SVM":0.735,"KNN":0.60,"RFC":0.60,"NBayes":0.675},
{"f":84,"LR":0.75,"SVM":0.725,"KNN":0.585,"RFC":0.575,"NBayes":0.68},
{"f":85,"LR":0.755,"SVM":0.74,"KNN":0.535,"RFC":0.60,"NBayes":0.69},
{"f":86,"LR":0.745,"SVM":0.72,"KNN":0.515,"RFC":0.56,"NBayes":0.695},
{"f":87,"LR":0.74,"SVM":0.705,"KNN":0.52,"RFC":0.58,"NBayes":0.695},
{"f":88,"LR":0.73,"SVM":0.715,"KNN":0.535,"RFC":0.52,"NBayes":0.70},
{"f":89,"LR":0.72,"SVM":0.715,"KNN":0.545,"RFC":0.54,"NBayes":0.71},
{"f":90,"LR":0.715,"SVM":0.72,"KNN":0.54,"RFC":0.56,"NBayes":0.71},
{"f":91,"LR":0.72,"SVM":0.71,"KNN":0.555,"RFC":0.59,"NBayes":0.705},
{"f":92,"LR":0.73,"SVM":0.725,"KNN":0.585,"RFC":0.57,"NBayes":0.705},
{"f":93,"LR":0.72,"SVM":0.72,"KNN":0.52,"RFC":0.62,"NBayes":0.70},
{"f":94,"LR":0.715,"SVM":0.72,"KNN":0.545,"RFC":0.585,"NBayes":0.705},
{"f":95,"LR":0.725,"SVM":0.705,"KNN":0.57,"RFC":0.63,"NBayes":0.71},
{"f":96,"LR":0.72,"SVM":0.725,"KNN":0.565,"RFC":0.58,"NBayes":0.71},
{"f":97,"LR":0.71,"SVM":0.715,"KNN":0.555,"RFC":0.56,"NBayes":0.70},
{"f":98,"LR":0.715,"SVM":0.72,"KNN":0.575,"RFC":0.63,"NBayes":0.695},
{"f":99,"LR":0.725,"SVM":0.70,"KNN":0.61,"RFC":0.57,"NBayes":0.695},
{"f":100,"LR":0.71,"SVM":0.71,"KNN":0.58,"RFC":0.58,"NBayes":0.70},
{"f":101,"LR":0.72,"SVM":0.705,"KNN":0.545,"RFC":0.605,"NBayes":0.715},
{"f":102,"LR":0.735,"SVM":0.71,"KNN":0.565,"RFC":0.535,"NBayes":0.715},
{"f":103,"LR":0.735,"SVM":0.72,"KNN":0.575,"RFC":0.54,"NBayes":0.705},
{"f":104,"LR":0.74,"SVM":0.73,"KNN":0.59,"RFC":0.56,"NBayes":0.72},
{"f":105,"LR":0.735,"SVM":0.73,"KNN":0.60,"RFC":0.595,"NBayes":0.71},
{"f":106,"LR":0.745,"SVM":0.725,"KNN":0.59,"RFC":0.54,"NBayes":0.715},
{"f":107,"LR":0.75,"SVM":0.725,"KNN":0.59,"RFC":0.60,"NBayes":0.72},
{"f":108,"LR":0.755,"SVM":0.79,"KNN":0.58,"RFC":0.55,"NBayes":0.725},
{"f":109,"LR":0.745,"SVM":0.77,"KNN":0.595,"RFC":0.605,"NBayes":0.73},
{"f":110,"LR":0.75,"SVM":0.785,"KNN":0.59,"RFC":0.57,"NBayes":0.71},
{"f":111,"LR":0.745,"SVM":0.765,"KNN":0.565,"RFC":0.65,"NBayes":0.71},
{"f":112,"LR":0.745,"SVM":0.775,"KNN":0.58,"RFC":0.595,"NBayes":0.725},
{"f":113,"LR":0.765,"SVM":0.77,"KNN":0.61,"RFC":0.615,"NBayes":0.72},
{"f":114,"LR":0.78,"SVM":0.765,"KNN":0.615,"RFC":0.65,"NBayes":0.725},
{"f":115,"LR":0.775,"SVM":0.775,"KNN":0.59,"RFC":0.525,"NBayes":0.725},
{"f":116,"LR":0.84,"SVM":0.80,"KNN":0.59,"RFC":0.57,"NBayes":0.73},
{"f":117,"LR":0.855,"SVM":0.84,"KNN":0.575,"RFC":0.595,"NBayes":0.73},
{"f":118,"LR":0.845,"SVM":0.865,"KNN":0.605,"RFC":0.595,"NBayes":0.735},
{"f":119,"LR":0.835,"SVM":0.865,"KNN":0.58,"RFC":0.60,"NBayes":0.735},
{"f":120,"LR":0.87,"SVM":0.86,"KNN":0.58,"RFC":0.62,"NBayes":0.73},
{"f":121,"LR":0.875,"SVM":0.905,"KNN":0.57,"RFC":0.64,"NBayes":0.73},
{"f":122,"LR":0.895,"SVM":0.915,"KNN":0.585,"RFC":0.53,"NBayes":0.73},
{"f":123,"LR":0.89,"SVM":0.91,"KNN":0.58,"RFC":0.57,"NBayes":0.735},
{"f":124,"LR":0.885,"SVM":0.91,"KNN":0.58,"RFC":0.58,"NBayes":0.73},
{"f":125,"LR":0.885,"SVM":0.905,"KNN":0.60,"RFC":0.52,"NBayes":0.735},
{"f":126,"LR":0.89,"SVM":0.905,"KNN":0.655,"RFC":0.625,"NBayes":0.735},
{"f":127,"LR":0.89,"SVM":0.905,"KNN":0.645,"RFC":0.53,"NBayes":0.74},
{"f":128,"LR":0.885,"SVM":0.90,"KNN":0.645,"RFC":0.52,"NBayes":0.735},
{"f":129,"LR":0.89,"SVM":0.90,"KNN":0.645,"RFC":0.59,"NBayes":0.735},
{"f":130,"LR":0.895,"SVM":0.895,"KNN":0.665,"RFC":0.61,"NBayes":0.735},
{"f":131,"LR":0.89,"SVM":0.885,"KNN":0.67,"RFC":0.58,"NBayes":0.74},
{"f":132,"LR":0.89,"SVM":0.905,"KNN":0.655,"RFC":0.62,"NBayes":0.735},
{"f":133,"LR":0.905,"SVM":0.88,"KNN":0.645,"RFC":0.555,"NBayes":0.73},
{"f":134,"LR":0.905,"SVM":0.885,"KNN":0.675,"RFC":0.57,"NBayes":0.745},
{"f":135,"LR":0.90,"SVM":0.89,"KNN":0.665,"RFC":0.59,"NBayes":0.725},
{"f":136,"LR":0.905,"SVM":0.92,"KNN":0.63,"RFC":0.515,"NBayes":0.72},
{"f":137,"LR":0.90,"SVM":0.93,"KNN":0.62,"RFC":0.54,"NBayes":0.72},
{"f":138,"LR":0.895,"SVM":0.93,"KNN":0.63,"RFC":0.63,"NBayes":0.72},
{"f":139,"LR":0.905,"SVM":0.93,"KNN":0.615,"RFC":0.58,"NBayes":0.72},
{"f":140,"LR":0.91,"SVM":0.935,"KNN":0.62,"RFC":0.645,"NBayes":0.72},
{"f":141,"LR":0.91,"SVM":0.945,"KNN":0.61,"RFC":0.55,"NBayes":0.725},
{"f":142,"LR":0.915,"SVM":0.96,"KNN":0.615,"RFC":0.525,"NBayes":0.745},
{"f":143,"LR":0.91,"SVM":0.955,"KNN":0.60,"RFC":0.55,"NBayes":0.745},
{"f":144,"LR":0.91,"SVM":0.97,"KNN":0.63,"RFC":0.565,"NBayes":0.73},
{"f":145,"LR":0.91,"SVM":0.985,"KNN":0.61,"RFC":0.61,"NBayes":0.74},
{"f":146,"LR":0.91,"SVM":0.99,"KNN":0.61,"RFC":0.575,"NBayes":0.735},
{"f":147,"LR":0.91,"SVM":0.99,"KNN":0.605,"RFC":0.65,"NBayes":0.74}
]
},
"spacing": 68,
"vconcat": [
{
"spacing": 30,
"resolve": {"scale": {"color": "independent"}, "legend": {"color": "independent"}},
"hconcat": [
{
"title": {"text": "A", "anchor": "start", "font": "Liberation Sans", "fontSize": 19, "fontWeight": "bold", "color": "#000000", "offset": 3, "dx": -4},
"vconcat": [{
  "data": {"name": "a"},
  "width": 524, "height": 260,
  "title": {"text": "AFS(rfeRidge)", "offset": 0, "dx": -32},
  "transform": [{"fold": ["LR","SVM","KNN","RFC","NBayes"], "as": ["clf","acc"]}],
  "mark": {"type": "line", "strokeWidth": 2.6, "strokeJoin": "round"},
  "encoding": {
    "x": {"field": "f", "type": "quantitative", "scale": {"domain": [1,147], "nice": false, "zero": false},
      "axis": {"values": [1,6,11,16,21,26,31,36,41,46,51,56,61,66,71,76,81,86,91,96,101,106,111,116,121,126,131,136,141,146], "title": "Feature Number", "labelAngle": -90, "labelFlush": false, "labelOverlap": false, "grid": false, "domain": true, "labelPadding": 8, "titlePadding": 10, "titleFontSize": 15}},
    "y": {"field": "acc", "type": "quantitative", "scale": {"domain": [0.4,1], "nice": false, "zero": false},
      "axis": {"values": [0.4,0.5,0.6,0.7,0.8,0.9,1], "format": ".4f", "title": "Accuracy", "domain": false, "grid": true, "labelPadding": 14, "titlePadding": 7}},
    "color": {"field": "clf", "type": "nominal", "scale": {"domain": ["LR","SVM","KNN","RFC","NBayes"], "range": ["#ED7D31","#ED1C24","#FFC000","#4472C4","#70AD47"]}, "legend": {"legendX": 26, "legendY": 7}}
  }
}]
},
{
"title": {"text": "B", "anchor": "start", "font": "Liberation Sans", "fontSize": 19, "fontWeight": "bold", "color": "#000000", "offset": 3, "dx": -13},
"vconcat": [{
  "data": {"name": "b"},
  "width": 521, "height": 261,
  "title": {"text": "DFS(rfeRidge)", "offset": 0, "dx": -27},
  "transform": [{"fold": ["LR","SVM","KNN","RFC","NBayes"], "as": ["clf","acc"]}],
  "mark": {"type": "line", "strokeWidth": 2.6, "strokeJoin": "round"},
  "encoding": {
    "x": {"field": "f", "type": "quantitative", "scale": {"domain": [1,147], "nice": false, "zero": false},
      "axis": {"values": [1,7,13,19,25,31,37,43,49,55,61,67,73,79,85,91,97,103,109,115,121,127,133,139,145], "title": "Feature Number", "labelAngle": -90, "labelFlush": false, "labelOverlap": false, "grid": false, "domain": true, "labelPadding": 8, "titlePadding": 10, "titleFontSize": 15}},
    "y": {"field": "acc", "type": "quantitative", "scale": {"domain": [0.4,1], "nice": false, "zero": false},
      "axis": {"values": [0.4,0.5,0.6,0.7,0.8,0.9,1], "format": ".4f", "title": "Accuracy", "domain": false, "grid": true, "labelPadding": 14, "titlePadding": 7}},
    "color": {"field": "clf", "type": "nominal", "scale": {"domain": ["LR","SVM","KNN","RFC","NBayes"], "range": ["#ED7D31","#ED1C24","#FFC000","#4472C4","#70AD47"]}, "legend": {"legendX": 49, "legendY": 219}}
  }
}]
}
]
},
{
"title": {"text": "C", "anchor": "start", "font": "Liberation Sans", "fontSize": 19, "fontWeight": "bold", "color": "#000000", "offset": 12, "dx": -4},
"vconcat": [{
  "data": {"name": "c"},
  "width": 524, "height": 261,
  "title": {"text": "BackFS", "offset": 0, "frame": "group"},
  "transform": [{"fold": ["LR","SVM","KNN","RFC","NBayes"], "as": ["clf","acc"]}],
  "mark": {"type": "line", "strokeJoin": "round"},
  "encoding": {
    "x": {"field": "f", "type": "quantitative", "scale": {"domain": [1,147], "nice": false, "zero": false},
      "axis": {"values": [1,7,13,19,25,31,37,43,49,55,61,67,73,79,85,91,97,103,109,115,121,127,133,139,145], "title": "Feature Number", "labelAngle": -90, "labelFlush": false, "labelOverlap": false, "grid": false, "domain": true, "labelPadding": 8, "titlePadding": 10, "titleFontSize": 15}},
    "y": {"field": "acc", "type": "quantitative", "scale": {"domain": [0.4,1], "nice": false, "zero": false},
      "axis": {"values": [0.4,0.5,0.6,0.7,0.8,0.9,1], "format": ".4f", "title": "Accuracy", "domain": false, "grid": true, "labelPadding": 14, "titlePadding": 7}},
    "color": {"field": "clf", "type": "nominal", "scale": {"domain": ["LR","SVM","KNN","RFC","NBayes"], "range": ["#F79646","#ED1C24","#FFC000","#0070C0","#9BBB59"]}, "legend": {"legendX": 61, "legendY": 4}},
    "strokeWidth": {"field": "clf", "type": "nominal", "scale": {"domain": ["LR","SVM","KNN","RFC","NBayes"], "range": [2.8,2.8,2.8,2.8,1.7]}, "legend": null}
  }
}]
}
]
}
